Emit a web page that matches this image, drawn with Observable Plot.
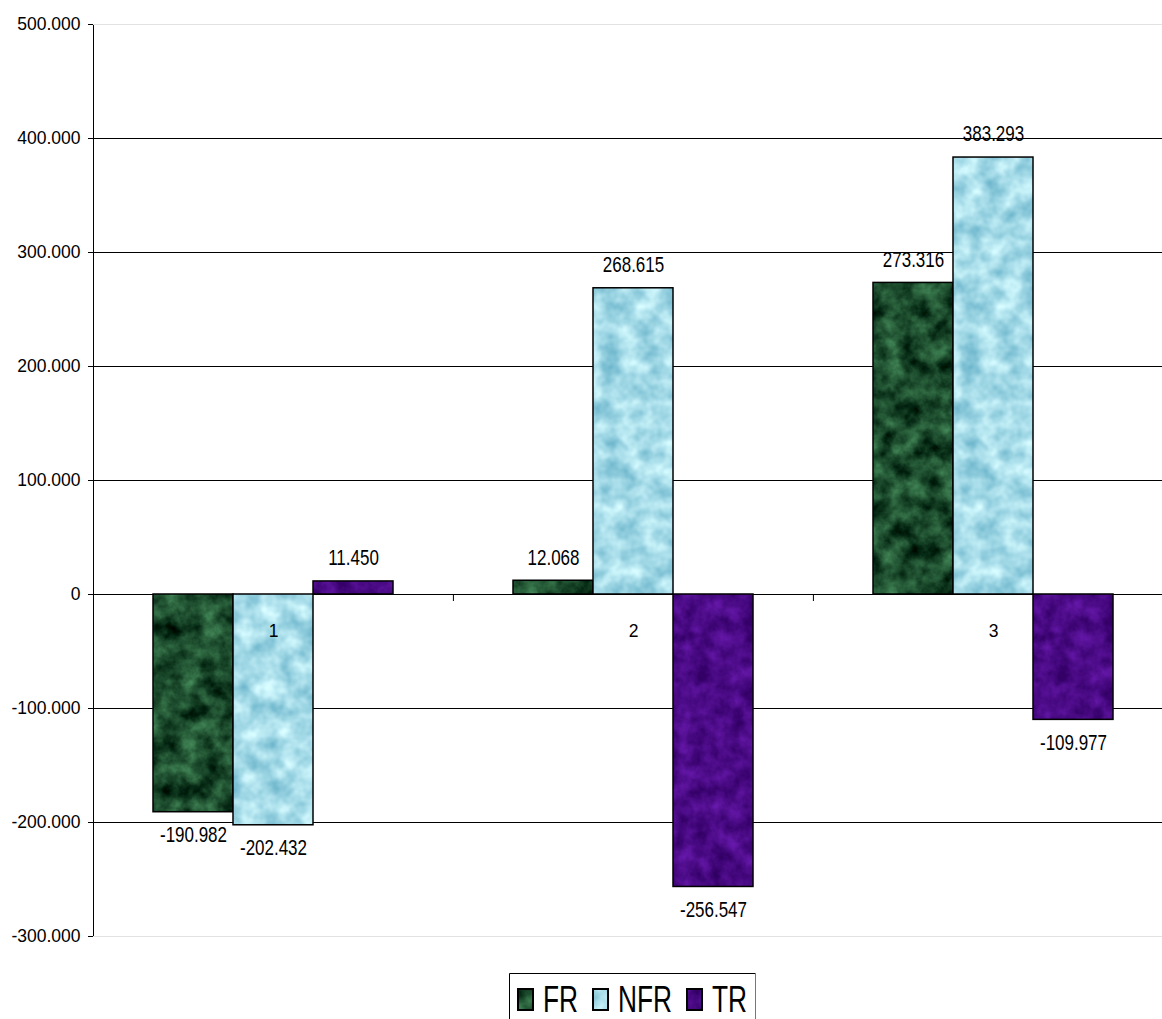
<!DOCTYPE html>
<html>
<head>
<meta charset="utf-8">
<script src="https://cdn.jsdelivr.net/npm/d3@7"></script>
<script src="https://cdn.jsdelivr.net/npm/@observablehq/plot@0.6"></script>
<style>
  body { margin: 0; background: #fff; overflow: hidden; font-family: "Liberation Sans", Arial, sans-serif; }
  #wrap { position: relative; width: 1162px; height: 1019px; overflow: hidden; }
  #legend { position: absolute; left: 509px; top: 973px; }
</style>
</head>
<body>
<svg width="0" height="0" style="position:absolute">
  <defs>
    <filter id="tex-fr" color-interpolation-filters="sRGB">
      <feTurbulence type="fractalNoise" baseFrequency="0.05" numOctaves="4" seed="7"/>
      <feColorMatrix type="matrix" values="0.45 0 0 0 -0.115  0.7 0 0 0 -0.055  0.5 0 0 0 -0.075  0 0 0 0 1"/>
    </filter>
    <filter id="tex-nfr" color-interpolation-filters="sRGB">
      <feTurbulence type="fractalNoise" baseFrequency="0.05" numOctaves="3" seed="11"/>
      <feColorMatrix type="matrix" values="0.6 0 0 0 0.35  0.4 0 0 0 0.66  0.3 0 0 0 0.76  0 0 0 0 1"/>
    </filter>
    <filter id="tex-tr" color-interpolation-filters="sRGB">
      <feTurbulence type="fractalNoise" baseFrequency="0.06" numOctaves="4" seed="3"/>
      <feColorMatrix type="matrix" values="0.3 0 0 0 0.14  0.15 0 0 0 -0.035  0.4 0 0 0 0.32  0 0 0 0 1"/>
    </filter>
    <pattern id="pat-fr" patternUnits="userSpaceOnUse" width="400" height="1000">
      <rect width="400" height="1000" filter="url(#tex-fr)"/>
    </pattern>
    <pattern id="pat-nfr" patternUnits="userSpaceOnUse" width="400" height="1000">
      <rect width="400" height="1000" filter="url(#tex-nfr)"/>
    </pattern>
    <pattern id="pat-tr" patternUnits="userSpaceOnUse" width="400" height="1000">
      <rect width="400" height="1000" filter="url(#tex-tr)"/>
    </pattern>
  </defs>
</svg>
<div id="wrap">
  <div id="chart"></div>
  <svg id="legend" width="248" height="46"></svg>
</div>
<script>
// ---- data ----
const categories = [1, 2, 3];
const series = ["FR", "NFR", "TR"];
const FR  = [-190982, 12068, 273316];
const NFR = [-202432, 268615, 383293];
const TR  = [11450, -256547, -109977];
const yTicks = [-300000, -200000, -100000, 0, 100000, 200000, 300000, 400000, 500000];
const seriesFills = ["url(#pat-fr)", "url(#pat-nfr)", "url(#pat-tr)"];

// ---- build table ----
const values = [FR, NFR, TR];
const rows = categories.flatMap((c, i) => series.map((s, j) => ({cat: c, series: s, value: values[j][i]})));

const loc = d3.formatLocale({decimal: ",", thousands: ".", grouping: [3], currency: ["", ""], minus: "-"});
const fmt = loc.format(",d");

const plotLeft = 92, plotRight = 1173; // category area runs slightly past the right edge
const facetW = (plotRight - plotLeft) / categories.length;
const padOuter = 0.75;
const bw = facetW / (series.length + 2 * padOuter);

const chart = Plot.plot({
  width: 1162,
  height: 956,
  marginLeft: plotLeft,
  marginRight: 1162 - plotRight,
  marginTop: 24,
  marginBottom: 20,
  style: {fontFamily: "'Liberation Sans', Arial, sans-serif", fontSize: "17.5px", color: "black", background: "white", overflow: "hidden"},
  fx: {domain: categories, padding: 0, axis: null},
  x: {domain: series, paddingInner: 0, paddingOuter: padOuter, axis: null},
  y: {domain: [yTicks[0], yTicks[yTicks.length - 1]], ticks: yTicks, tickFormat: fmt, tickSize: 5, tickPadding: 8, line: true, label: null},
  color: {domain: series, range: seriesFills},
  marks: [
    Plot.ruleY([yTicks[0], yTicks[yTicks.length - 1]], {stroke: "#e2e2e2", strokeWidth: 1}),
    Plot.ruleY(yTicks.slice(1, -1), {stroke: "black", strokeWidth: 1}),
    Plot.barY(rows, {fx: "cat", x: "series", y: "value", fill: "series", stroke: "black", strokeWidth: 1.5}),
    Plot.ruleX(categories.slice(1).map(c => ({cat: c})), {fx: "cat", x: () => series[0], y1: () => 0, y2: () => 0, insetBottom: -7, dx: -(padOuter + 0.5) * bw, stroke: "black", strokeWidth: 1}),
    Plot.text(categories.map(c => ({cat: c})), {fx: "cat", x: () => series[1], y: () => 0, text: d => String(d.cat), dy: 37, fontSize: 17.5, fill: "black"}),
    Plot.text(rows.filter(d => d.value >= 0), {fx: "cat", x: "series", y: "value", text: d => fmt(d.value), dy: -23, fontSize: 21.5, fill: "black"}),
    Plot.text(rows.filter(d => d.value < 0), {fx: "cat", x: "series", y: "value", text: d => fmt(d.value), dy: 23, fontSize: 21.5, fill: "black"})
  ]
});
document.getElementById("chart").appendChild(chart);

// data labels are horizontally condensed in the original
const labelSet = new Set(rows.map(d => fmt(d.value)));
d3.select(chart).selectAll("text").each(function () {
  if (!labelSet.has(this.textContent)) return;
  const tr = this.getAttribute("transform");
  if (tr) {
    this.setAttribute("transform", tr + " scale(0.79,1)");
  } else {
    const x = +this.getAttribute("x") || 0, y = +this.getAttribute("y") || 0;
    this.removeAttribute("x"); this.removeAttribute("y");
    this.setAttribute("transform", `translate(${x},${y}) scale(0.79,1)`);
  }
});

// ---- legend ----
const leg = d3.select("#legend");
leg.append("rect").attr("x", 0.5).attr("y", 0.5).attr("width", 246).attr("height", 80).attr("fill", "white").attr("stroke", "none");
leg.append("path").attr("d", "M0.5,80V0.5H246.5").attr("fill", "none").attr("stroke", "black");
leg.append("path").attr("d", "M246.5,0.5V80").attr("fill", "none").attr("stroke", "#777");
let cx = 8;
series.forEach((s, i) => {
  leg.append("rect").attr("x", cx + 1).attr("y", 16).attr("width", 15).attr("height", 21)
    .attr("fill", seriesFills[i]).attr("stroke", "black").attr("stroke-width", 2);
  cx += 26;
  const t = leg.append("text").attr("transform", `translate(${cx},39) scale(0.73,1)`)
    .attr("font-size", 36).attr("font-family", "'Liberation Sans', Arial, sans-serif").attr("fill", "black").text(s);
  cx += t.node().getComputedTextLength() * 0.73 + 14;
});
</script>
</body>
</html>
